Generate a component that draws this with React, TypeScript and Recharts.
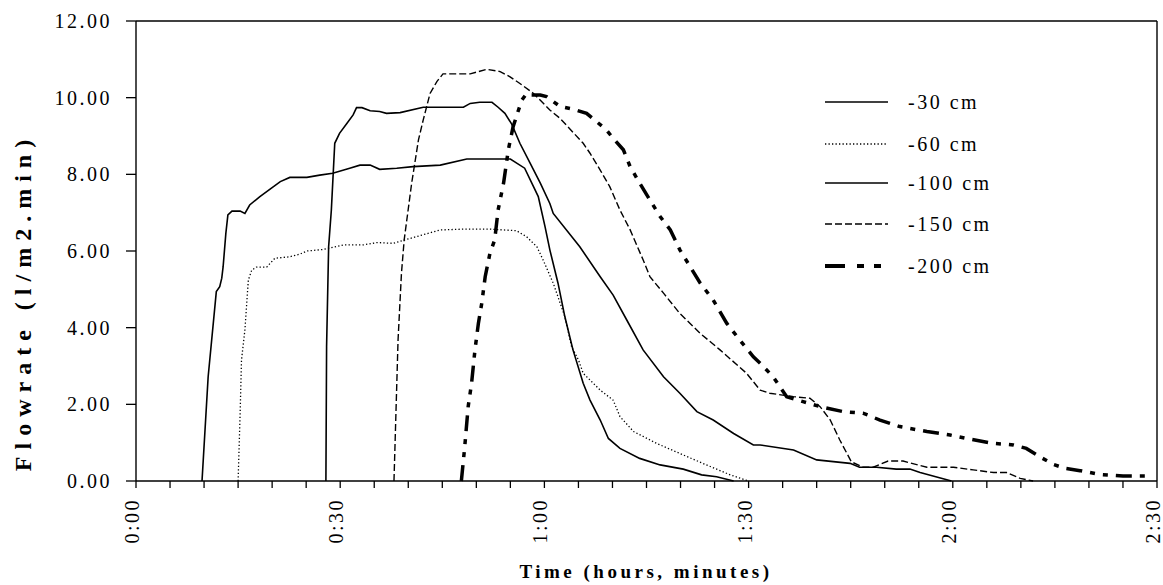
import React from "react";
import { Label, Legend, Line, LineChart, ReferenceLine, XAxis, YAxis } from "recharts";

// time in minutes, flowrate in l/m2.min, one pair of arrays per depth
const t30 = [9.7, 10.6, 11.8, 12.3, 12.6, 12.8, 13.2, 13.5, 14.1, 15.3, 16.0, 16.7, 18.2, 19.9, 21.2, 22.6, 25.1, 27.0, 28.9, 31.4, 32.9, 34.4, 35.8, 38.3, 40.7, 44.7, 48.6, 55.0, 57.1, 58.4, 59.1, 60.1, 60.8, 62.0, 63.0, 64.2, 65.7, 66.7, 68.2, 69.4, 71.1, 74.0, 77.0, 80.4, 83.1, 85.3, 87.8];
const q30 = [0, 2.72, 4.94, 5.07, 5.29, 5.59, 6.46, 6.94, 7.04, 7.04, 6.98, 7.2, 7.42, 7.64, 7.81, 7.92, 7.92, 7.98, 8.03, 8.16, 8.24, 8.24, 8.13, 8.16, 8.2, 8.24, 8.4, 8.4, 8.16, 7.68, 7.42, 6.63, 6.03, 5.16, 4.29, 3.42, 2.55, 2.11, 1.59, 1.11, 0.85, 0.59, 0.42, 0.31, 0.16, 0.11, 0];

const t60 = [15.0, 15.3, 15.5, 16.0, 16.5, 17.0, 17.7, 19.2, 20.4, 22.6, 24.1, 25.1, 27.5, 30.5, 33.4, 35.4, 37.8, 39.5, 44.7, 48.1, 52.0, 55.9, 57.4, 58.9, 59.8, 61.3, 63.0, 64.0, 65.0, 65.7, 68.2, 70.1, 71.1, 73.1, 76.5, 80.4, 83.8, 87.3, 90.0];
const q60 = [0, 1.77, 3.16, 3.94, 5.24, 5.5, 5.58, 5.58, 5.81, 5.85, 5.92, 6.0, 6.04, 6.16, 6.16, 6.22, 6.2, 6.29, 6.55, 6.57, 6.57, 6.53, 6.37, 6.11, 5.77, 5.16, 4.29, 3.5, 3.16, 2.81, 2.37, 2.11, 1.68, 1.29, 0.98, 0.68, 0.42, 0.16, 0];

const t100 = [27.9, 28.0, 28.3, 28.7, 29.2, 29.9, 31.0, 31.9, 32.4, 33.2, 34.4, 35.8, 36.8, 38.8, 42.2, 48.1, 49.1, 50.5, 52.3, 53.2, 54.2, 55.2, 56.4, 57.9, 59.4, 60.8, 61.3, 65.2, 68.2, 70.1, 72.1, 74.5, 77.5, 79.9, 82.4, 84.8, 87.8, 90.7, 91.7, 96.6, 100.0, 104.9, 106.3, 108.8, 111.7, 113.7, 115.2, 119.8];
const q100 = [0, 3.5, 6.11, 7.07, 8.81, 9.07, 9.33, 9.55, 9.74, 9.74, 9.66, 9.64, 9.59, 9.61, 9.75, 9.75, 9.85, 9.88, 9.88, 9.75, 9.59, 9.31, 8.81, 8.29, 7.77, 7.24, 6.98, 6.11, 5.33, 4.85, 4.2, 3.42, 2.72, 2.29, 1.81, 1.59, 1.24, 0.94, 0.94, 0.81, 0.55, 0.46, 0.36, 0.36, 0.31, 0.31, 0.22, 0];

const t150 = [37.9, 38.5, 39.0, 39.4, 40.5, 41.5, 42.2, 43.2, 44.2, 45.1, 49.1, 51.5, 53.5, 54.9, 56.4, 58.4, 60.8, 62.3, 65.7, 66.7, 68.2, 69.6, 71.1, 72.6, 74.5, 75.5, 77.5, 79.9, 82.9, 85.8, 89.7, 91.7, 93.1, 96.6, 99.0, 100.5, 102.0, 103.4, 105.1, 106.8, 108.3, 110.5, 112.7, 116.2, 120.1, 123.0, 126.0, 127.9, 129.9, 131.8];
const q150 = [0, 3.68, 5.42, 6.29, 7.77, 8.9, 9.42, 10.11, 10.42, 10.62, 10.62, 10.74, 10.68, 10.55, 10.37, 10.11, 9.68, 9.46, 8.81, 8.55, 8.11, 7.68, 7.07, 6.55, 5.77, 5.33, 4.9, 4.37, 3.85, 3.42, 2.81, 2.37, 2.29, 2.2, 2.16, 1.94, 1.59, 1.07, 0.5, 0.36, 0.36, 0.52, 0.52, 0.36, 0.36, 0.29, 0.22, 0.22, 0.07, 0];

const t200 = [47.8, 48.3, 48.8, 49.3, 49.8, 50.3, 50.8, 51.3, 52.0, 52.7, 53.2, 54.0, 54.7, 55.4, 56.2, 56.7, 57.4, 58.1, 59.4, 60.3, 62.3, 64.2, 66.2, 67.7, 69.1, 70.1, 71.6, 72.6, 74.0, 75.5, 77.0, 78.5, 79.9, 82.9, 84.8, 86.8, 88.7, 90.7, 91.7, 93.6, 95.6, 98.0, 100.5, 103.9, 106.8, 109.3, 112.2, 116.2, 119.6, 122.0, 126.0, 128.9, 130.8, 132.8, 134.8, 136.5, 138.7, 141.6, 145.0, 149.0];
const q200 = [0, 0.9, 1.94, 2.55, 3.42, 4.11, 4.64, 5.33, 5.94, 6.29, 7.07, 7.77, 8.64, 9.24, 9.68, 9.94, 10.11, 10.07, 10.07, 10.03, 9.77, 9.7, 9.59, 9.37, 9.16, 8.94, 8.64, 8.2, 7.77, 7.33, 6.9, 6.55, 6.03, 5.16, 4.72, 4.11, 3.68, 3.24, 3.07, 2.72, 2.2, 2.07, 1.94, 1.81, 1.77, 1.59, 1.42, 1.29, 1.2, 1.11, 0.98, 0.94, 0.85, 0.63, 0.43, 0.33, 0.27, 0.17, 0.13, 0.13];

const xTicks = [0, 5, 10, 15, 20, 25, 30, 35, 40, 45, 50, 55, 60, 65, 70, 75, 80, 85, 90, 95, 100, 105, 110, 115, 120, 125, 130, 135, 140, 145, 150];
const yTicks = [0, 2, 4, 6, 8, 10, 12];

const FONT = '"Liberation Serif", "Times New Roman", serif';

const series = [
  { name: "-30 cm", t: t30, q: q30, width: 1.6, dash: undefined },
  { name: "-60 cm", t: t60, q: q60, width: 1.3, dash: "1.3 2.2" },
  { name: "-100 cm", t: t100, q: q100, width: 1.6, dash: undefined },
  { name: "-150 cm", t: t150, q: q150, width: 1.4, dash: "7 3" },
  { name: "-200 cm", t: t200, q: q200, width: 3.5, dash: "16 8 5 8 5 8" },
];

const fmtTime = (m: number) => `${Math.floor(m / 60)}:${String(m % 60).padStart(2, "0")}`;

function XTick({ x, y, payload }: any) {
  if (payload.value % 30 !== 0) return null;
  const lx = x - 4;
  return (
    <text x={lx} y={y} transform={`rotate(-90 ${lx} ${y})`} textAnchor="end" dominantBaseline="central" fontFamily={FONT} fontSize={20} letterSpacing={2.5} fill="#000">
      {fmtTime(payload.value)}
    </text>
  );
}

function YTick({ x, y, payload }: any) {
  return (
    <text x={x} y={y} textAnchor="end" dominantBaseline="central" fontFamily={FONT} fontSize={20} letterSpacing={2.5} fill="#000">
      {payload.value.toFixed(2)}
    </text>
  );
}

const XTitle = () => (
  <text x={646} y={578} textAnchor="middle" fontFamily={FONT} fontSize={19} fontWeight="bold" letterSpacing={3.5} fill="#000">
    Time (hours, minutes)
  </text>
);

const YTitle = () => (
  <text x={23} y={302} transform="rotate(-90 23 302)" textAnchor="middle" dominantBaseline="central" fontFamily={FONT} fontSize={24} fontWeight="bold" letterSpacing={7} fill="#000">
    Flowrate (l/m2.min)
  </text>
);

const legendRows = [27, 69, 108, 149, 191];

function LegendBox() {
  return (
    <svg width={260} height={210}>
      {series.map((s, i) => (
        <g key={s.name}>
          <line x1={10} x2={73} y1={legendRows[i]} y2={legendRows[i]} stroke="#000" strokeWidth={s.name === "-200 cm" ? 4 : s.width} strokeDasharray={s.name === "-200 cm" ? "20 12 7 10 7 20" : s.dash} />
          <text x={93} y={legendRows[i]} dominantBaseline="central" fontFamily={FONT} fontSize={20} letterSpacing={2.5} fill="#000">
            {s.name}
          </text>
        </g>
      ))}
    </svg>
  );
}

export default function App() {
  return (
    <div style={{ position: "absolute", left: 0, top: 0, width: 1163, height: 585, background: "#fff" }}>
      <LineChart width={1163} height={585} margin={{ top: 21, right: 6, bottom: 0, left: 0 }} style={{ overflow: "visible" }}>
        <XAxis
          dataKey="t"
          type="number"
          domain={[0, 150]}
          ticks={xTicks}
          interval={0}
          height={104}
          tickSize={7}
          tickMargin={10}
          tick={<XTick />}
          axisLine={{ stroke: "#000", strokeWidth: 1.4 }}
          tickLine={{ stroke: "#000", strokeWidth: 1.3 }}
          allowDataOverflow
        >
          <Label content={<XTitle />} />
        </XAxis>
        <YAxis
          type="number"
          domain={[0, 12]}
          ticks={yTicks}
          interval={0}
          width={136}
          tickSize={10}
          tickMargin={14}
          tick={<YTick />}
          axisLine={{ stroke: "#000", strokeWidth: 1.4 }}
          tickLine={{ stroke: "#000", strokeWidth: 1.3 }}
        >
          <Label content={<YTitle />} />
        </YAxis>
        <ReferenceLine y={12} stroke="#000" strokeWidth={1.4} />
        <ReferenceLine x={150} stroke="#000" strokeWidth={1.4} />
        {series.map((s) => (
          <Line
            key={s.name}
            name={s.name}
            data={s.t.map((t, i) => ({ t, q: s.q[i] }))}
            dataKey="q"
            type="linear"
            stroke="#000"
            strokeWidth={s.width}
            strokeDasharray={s.dash}
            dot={false}
            activeDot={false}
            isAnimationActive={false}
          />
        ))}
        <Legend layout="vertical" align="center" verticalAlign="middle" content={<LegendBox />} wrapperStyle={{ position: "absolute", left: 815, top: 75, width: 260, height: 210 }} />
      </LineChart>
    </div>
  );
}
